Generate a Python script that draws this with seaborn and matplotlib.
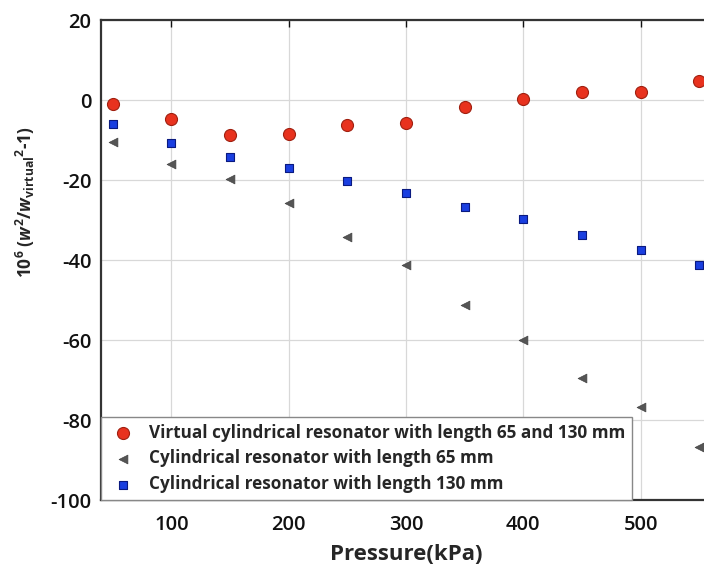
import matplotlib
matplotlib.use("Agg")
import matplotlib.pyplot as plt
import seaborn as sns
import pandas as pd

pressure = [50, 100, 150, 200, 250, 300, 350, 400, 450, 500, 550]
virtual = [-1.1, -4.8, -8.8, -8.4, -6.2, -5.8, -1.8, 0.3, 2.0, 1.9, 4.7]
len65 = [-10.6, -16.1, -19.7, -25.7, -34.2, -41.2, -51.2, -60.1, -69.4, -76.8, -86.7]
len130 = [-6.0, -10.7, -14.2, -17.1, -20.2, -23.3, -26.7, -29.8, -33.7, -37.4, -41.2]

labels = ["Virtual cylindrical resonator with length 65 and 130 mm",
          "Cylindrical resonator with length 65 mm",
          "Cylindrical resonator with length 130 mm"]
xticks = [100, 200, 300, 400, 500]
yticks = [-100, -80, -60, -40, -20, 0, 20]

sns.set_theme(style="white")
plt.rcParams['font.family'] = ['Open Sans', 'DejaVu Sans']
plt.rcParams['axes.unicode_minus'] = False
plt.rcParams['mathtext.fontset'] = 'custom'
plt.rcParams['mathtext.rm'] = 'Open Sans:bold'
plt.rcParams['mathtext.it'] = 'Open Sans:italic:bold'
plt.rcParams['mathtext.bf'] = 'Open Sans:bold'

fig = plt.figure(figsize=(7.04, 5.65), dpi=100)
ax = fig.add_axes([101/704, 65/565, 610/704, 480/565])

df = pd.DataFrame({"p": pressure, "virtual": virtual, "l65": len65, "l130": len130})

sns.scatterplot(data=df, x="p", y="virtual", ax=ax, marker="o", s=75,
                color="#e8321e", edgecolor="#a02010", linewidth=0.8, label=labels[0], zorder=3)
sns.scatterplot(data=df, x="p", y="l65", ax=ax, marker="<", s=40,
                color="#555555", edgecolor="#444444", linewidth=0.5, label=labels[1], zorder=3)
sns.scatterplot(data=df, x="p", y="l130", ax=ax, marker="s", s=40,
                color="#1a3fe0", edgecolor="#0a1a80", linewidth=0.8, label=labels[2], zorder=3)

ax.set_xlim(40, 560)
ax.set_ylim(-100, 20)
ax.set_xticks(xticks)
ax.set_yticks(yticks)
ax.grid(True, color="#d8d8d8", linewidth=0.9)
ax.tick_params(direction="in", length=5, width=1, top=True, right=True,
               labelsize=14.5, colors="#111111")
ax.tick_params(axis="x", pad=11)
ax.tick_params(axis="y", pad=7)
for lab in ax.get_xticklabels() + ax.get_yticklabels():
    lab.set_fontweight("semibold")
for sp in ax.spines.values():
    sp.set_color("#333333")
    sp.set_linewidth(1.6)

ax.set_xlabel("Pressure(kPa)", fontsize=16, fontweight="bold", labelpad=6)
ax.set_ylabel(r"10$^{6}$ ($w^{2}$/$w_{\mathrm{virtual}}$$^{2}$-1)", fontsize=12.5,
              fontweight="bold")
ax.yaxis.set_label_coords(-0.105, 0.62)

leg = ax.legend(loc="lower left", borderaxespad=0, fancybox=False, frameon=True,
                handletextpad=0.6, borderpad=0.4, labelspacing=0.45, handlelength=1.8,
                prop={"weight": "bold", "size": 12.3})
leg.get_frame().set_edgecolor("#888888")
leg.get_frame().set_linewidth(1.0)
leg.get_frame().set_alpha(1)

fig.savefig("out.png", dpi=100)
